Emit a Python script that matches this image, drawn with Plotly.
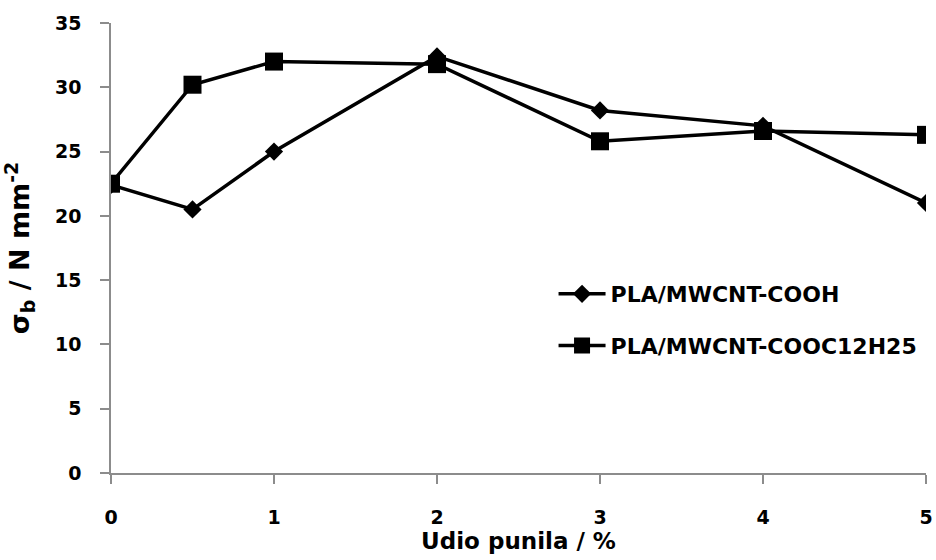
import plotly.graph_objects as go

# filler content (%) and tensile strength values
udio = [0, 0.5, 1, 2, 3, 4, 5]
cooh = [22.4, 20.5, 25.0, 32.4, 28.2, 27.0, 21.0]
cooc12 = [22.5, 30.2, 32.0, 31.8, 25.8, 26.6, 26.3]

series_names = ["PLA/MWCNT-COOH", "PLA/MWCNT-COOC12H25"]
x_ticks = [0, 1, 2, 3, 4, 5]
y_ticks = [0, 5, 10, 15, 20, 25, 30, 35]

bold_font = "DejaVu Sans, Verdana, sans-serif"
tick_font = dict(family=bold_font, size=19, color="black", weight="bold")

fig = go.Figure()

fig.add_trace(go.Scatter(
    x=udio, y=cooh, name=series_names[0], legendgroup="a",
    mode="lines+markers",
    line=dict(color="black", width=3.5),
    marker=dict(symbol="diamond", size=14, color="black"),
))
fig.add_trace(go.Scatter(
    x=udio, y=cooc12, name=series_names[1], legendgroup="b",
    mode="lines+markers",
    line=dict(color="black", width=3.5),
    marker=dict(symbol="square", size=18, color="black"),
))

axis_common = dict(
    showgrid=False, zeroline=False, automargin=False,
    showline=True, linecolor="#8c8c8c", linewidth=1.5,
    ticks="outside", tickcolor="#8c8c8c", ticklen=9, tickwidth=1.5,
    tickfont=tick_font, ticklabeloverflow="allow",
)

fig.update_layout(
    width=936, height=560,
    margin=dict(l=111, r=10, t=23, b=87),
    plot_bgcolor="white", paper_bgcolor="white",
    showlegend=True,
    legend=dict(
        x=0.543, y=0.34, xanchor="left", yanchor="middle",
        font=dict(family=bold_font, size=22, color="black", weight="bold"),
        tracegroupgap=20, itemwidth=47, bgcolor="rgba(0,0,0,0)",
    ),
    xaxis=dict(
        range=[0, 5], tickvals=x_ticks, ticklabelstandoff=17,
        title=dict(text="<b>Udio punila / %</b>", standoff=4,
                   font=dict(family=bold_font, size=23, color="black")),
        **axis_common,
    ),
    yaxis=dict(
        range=[0, 35], tickvals=y_ticks, ticklabelstandoff=15,
        title=dict(text="<b>σ<sub>b</sub> / N mm<sup>-2</sup></b>", standoff=18,
                   font=dict(family=bold_font, size=27, color="black")),
        **axis_common,
    ),
)

# drop the default body margin so the figure fills the window
fig.write_html(
    "out.html",
    config={"displayModeBar": False},
    post_script="document.body.style.margin='0';",
)
